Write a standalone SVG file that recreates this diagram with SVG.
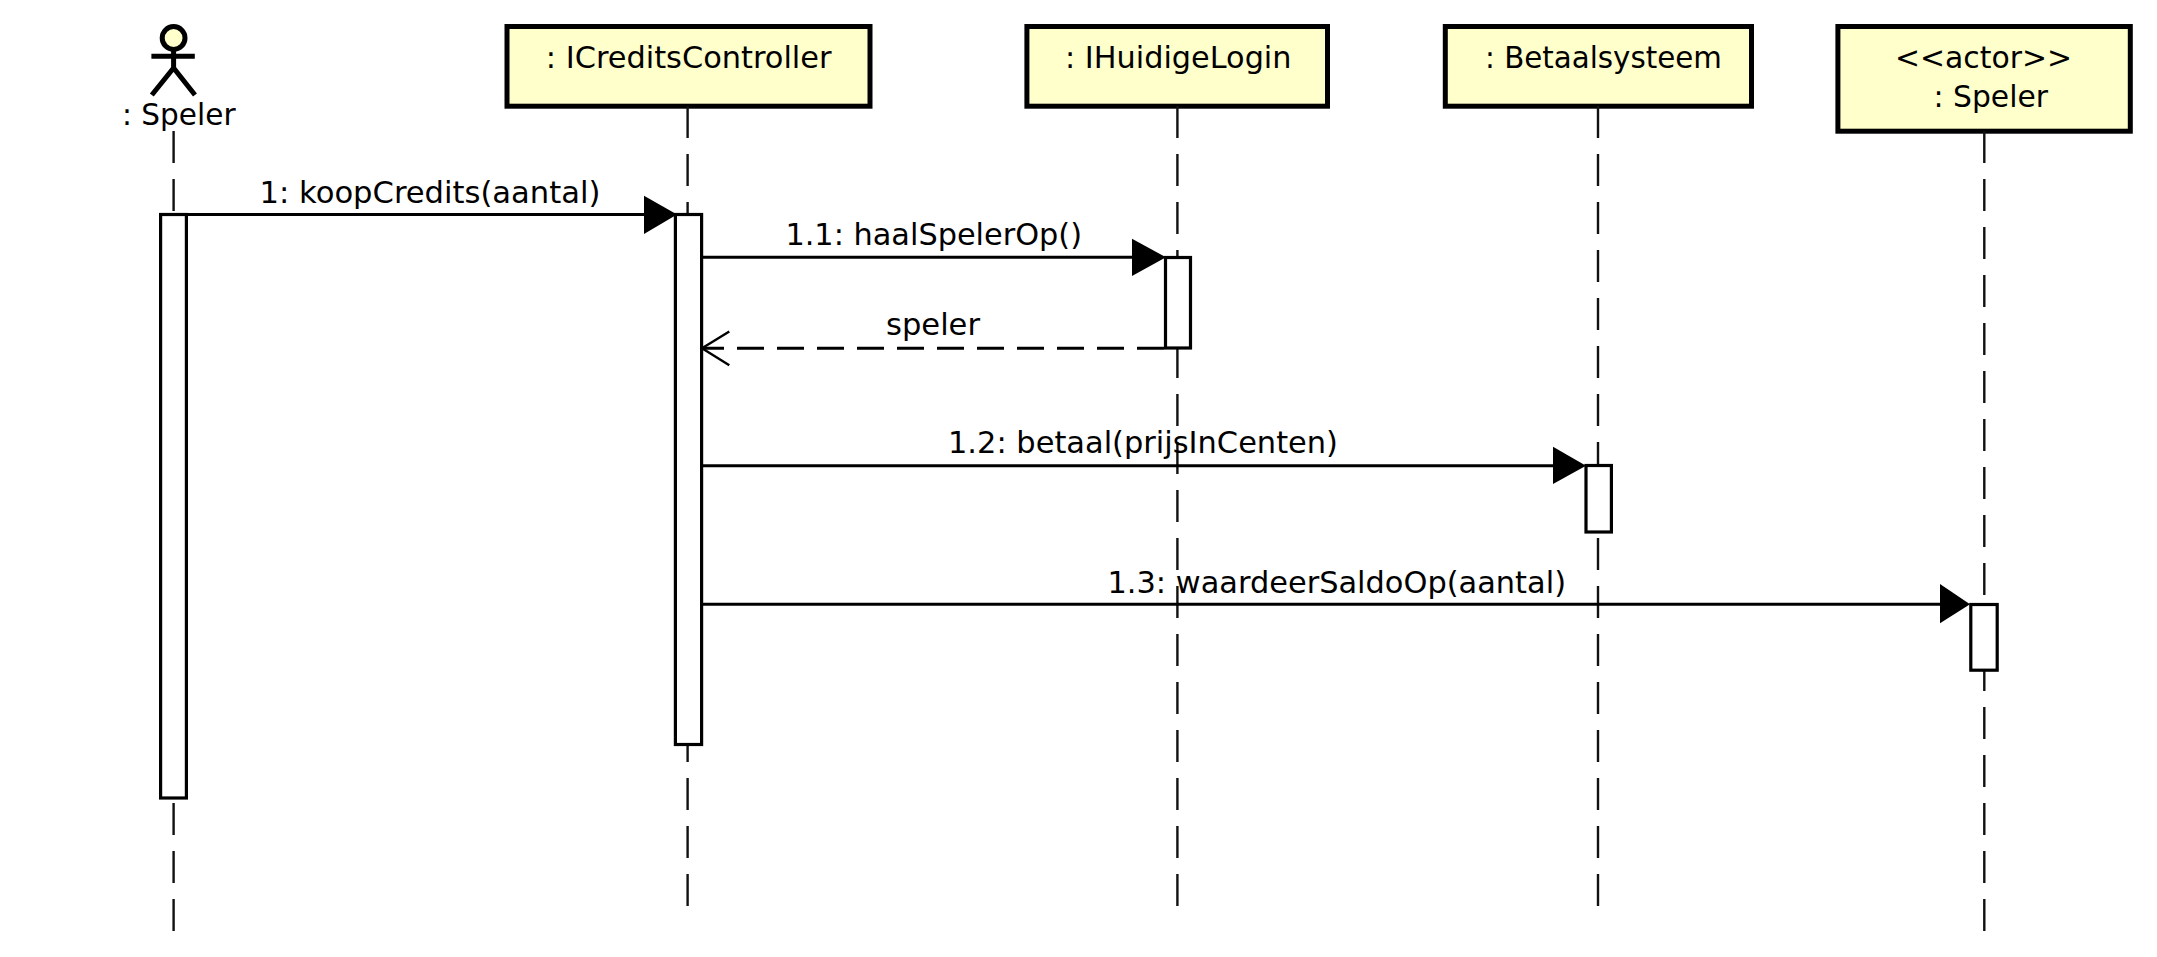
<svg xmlns="http://www.w3.org/2000/svg" width="2157" height="957" viewBox="0 0 2157 957">
<style>
text{font-family:"DejaVu Sans","Liberation Sans",sans-serif;font-size:30.5px;fill:#000}
.box{fill:#ffffcc;stroke:#000;stroke-width:5}
.act{fill:#fff;stroke:#000;stroke-width:3.2}
.life{fill:none;stroke:#111;stroke-width:2.4;stroke-dasharray:32 16}
.msg{fill:none;stroke:#000;stroke-width:3}
.ret{fill:none;stroke:#000;stroke-width:3;stroke-dasharray:27 13}
.open{fill:none;stroke:#000;stroke-width:2.4}
.head{fill:#000}
.fig{fill:none;stroke:#000;stroke-width:5}
</style>
<rect width="2157" height="957" fill="#fff"/>
<g id="node-actor-speler">
<circle cx="173.6" cy="38" r="11.4" fill="#ffffcc" stroke="#000" stroke-width="5"/>
<path class="fig" d="M173.6 50V68M151.4 56.3H194.8M151.8 95L173.6 68L195 95"/>
<text x="122" y="125" textLength="113.6" lengthAdjust="spacingAndGlyphs">: Speler</text>
</g>
<g id="node-icreditscontroller">
<rect class="box" x="507" y="26.5" width="363" height="79.7"/>
<text x="545.8" y="68.3" textLength="285.7" lengthAdjust="spacingAndGlyphs">: ICreditsController</text>
</g>
<g id="node-ihuidigelogin">
<rect class="box" x="1026.9" y="26.5" width="300.6" height="79.7"/>
<text x="1065" y="68.3" textLength="226.5" lengthAdjust="spacingAndGlyphs">: IHuidigeLogin</text>
</g>
<g id="node-betaalsysteem">
<rect class="box" x="1445.3" y="26.5" width="306.2" height="79.7"/>
<text x="1485" y="68.3" textLength="236.8" lengthAdjust="spacingAndGlyphs">: Betaalsysteem</text>
</g>
<g id="node-actor-speler-2">
<rect class="box" x="1837.9" y="26.5" width="292.4" height="104.7"/>
<text x="1895" y="68.3" textLength="177" lengthAdjust="spacingAndGlyphs">&lt;&lt;actor&gt;&gt;</text>
<text x="1933.6" y="106.7" textLength="114.4" lengthAdjust="spacingAndGlyphs">: Speler</text>
</g>
<g id="connectors">
<g id="lifelines">
<path class="life" d="M173.6 131V931"/>
<path class="life" d="M687.6 106V907"/>
<path class="life" d="M1177.4 106V907"/>
<path class="life" d="M1598 106V907"/>
<path class="life" d="M1984.3 131V931"/>
</g>
<g id="activations">
<rect class="act" x="160.6" y="214.5" width="25.8" height="583.5"/>
<rect class="act" x="675.4" y="214.5" width="26.2" height="530"/>
<rect class="act" x="1165.5" y="257.5" width="25" height="90.5"/>
<rect class="act" x="1586" y="465.5" width="25.4" height="66.5"/>
<rect class="act" x="1970.8" y="604.5" width="26.4" height="65.7"/>
</g>
<g id="messages">
<path class="msg" d="M187 214.4H650"/>
<path class="head" d="M644 195.7L677 214.4L644 234Z"/>
<path class="msg" d="M702 257.3H1140"/>
<path class="head" d="M1132 238.7L1166 257.3L1132 276Z"/>
<path class="ret" d="M1164 348.3H702"/>
<path class="open" d="M729.3 331.5L702 348.3L729.3 365.3"/>
<path class="msg" d="M702 465.7H1560"/>
<path class="head" d="M1553 446.7L1586 465.7L1553 484Z"/>
<path class="msg" d="M702 604.3H1945"/>
<path class="head" d="M1940 584L1970 604.3L1940 623.3Z"/>
</g>
<g id="message-labels">
<text x="259.6" y="203.3" textLength="340.8" lengthAdjust="spacingAndGlyphs">1: koopCredits(aantal)</text>
<text x="785.4" y="245" textLength="296.6" lengthAdjust="spacingAndGlyphs">1.1: haalSpelerOp()</text>
<text x="886" y="335" textLength="94" lengthAdjust="spacingAndGlyphs">speler</text>
<text x="948" y="453" textLength="390" lengthAdjust="spacingAndGlyphs">1.2: betaal(prijsInCenten)</text>
<text x="1107.5" y="592.7" textLength="458.5" lengthAdjust="spacingAndGlyphs">1.3: waardeerSaldoOp(aantal)</text>
</g>
</g>
</svg>
